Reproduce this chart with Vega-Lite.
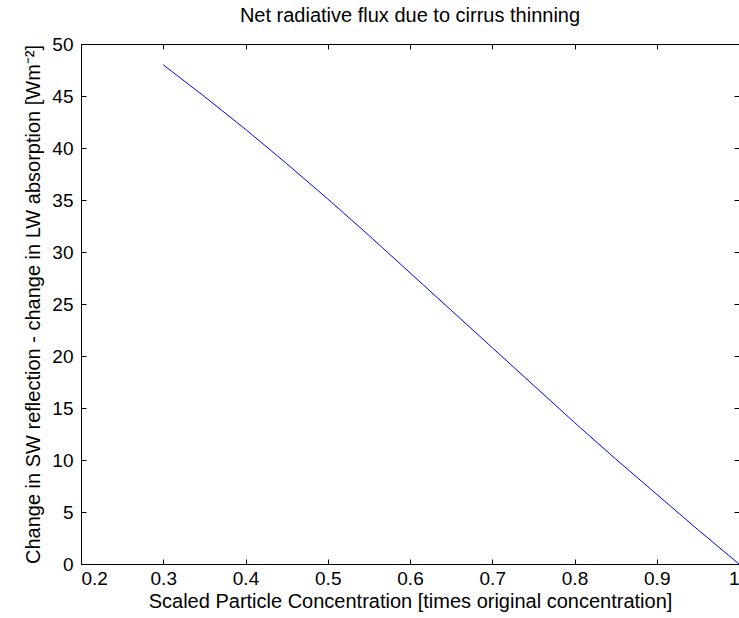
{
  "$schema": "https://vega.github.io/schema/vega-lite/v6.json",
  "width": 658,
  "height": 520,
  "autosize": "none",
  "padding": {"left": 81, "top": 44, "right": 0, "bottom": 54},
  "background": "white",
  "config": {
    "view": {"stroke": "black", "strokeWidth": 1},
    "font": "Liberation Sans",
    "axis": {
      "grid": false,
      "domainColor": "black",
      "tickColor": "black",
      "labelColor": "black",
      "titleColor": "black",
      "labelFont": "Liberation Sans",
      "titleFont": "Liberation Sans",
      "labelFontSize": 19,
      "titleFontSize": 20,
      "titleFontWeight": "normal",
      "tickSize": -5,
      "titleLimit": 1000
    }
  },
  "title": {
    "text": "Net radiative flux due to cirrus thinning",
    "fontSize": 20,
    "fontWeight": "normal",
    "font": "Liberation Sans",
    "color": "black",
    "offset": 9
  },
  "data": {
    "values": [
      {"c": 0.3, "v": 48.0},
      {"c": 0.35, "v": 44.95},
      {"c": 0.4, "v": 41.8},
      {"c": 0.45, "v": 38.5},
      {"c": 0.5, "v": 35.1},
      {"c": 0.55, "v": 31.6},
      {"c": 0.6, "v": 28.0},
      {"c": 0.65, "v": 24.4},
      {"c": 0.7, "v": 20.8},
      {"c": 0.75, "v": 17.2},
      {"c": 0.8, "v": 13.6},
      {"c": 0.85, "v": 10.1},
      {"c": 0.9, "v": 6.7},
      {"c": 0.95, "v": 3.3},
      {"c": 1.0, "v": 0.0}
    ]
  },
  "layer": [
    {
      "mark": {"type": "line", "color": "#0000ff", "strokeWidth": 1},
      "encoding": {
        "x": {
          "field": "c",
          "type": "quantitative",
          "scale": {"domain": [0.2, 1], "nice": false, "zero": false},
          "axis": {
            "values": [0.2, 0.3, 0.4, 0.5, 0.6, 0.7, 0.8, 0.9, 1],
            "format": "~g",
            "title": "Scaled Particle Concentration [times original concentration]",
            "labelPadding": 10,
            "titlePadding": 3
          }
        },
        "y": {
          "field": "v",
          "type": "quantitative",
          "scale": {"domain": [0, 50], "nice": false},
          "axis": {
            "values": [0, 5, 10, 15, 20, 25, 30, 35, 40, 45, 50],
            "title": "Change in SW reflection - change in LW absorption [Wm⁻²]",
            "labelPadding": 13,
            "titlePadding": 8
          }
        }
      }
    },
    {
      "mark": {"type": "line", "opacity": 0},
      "encoding": {
        "x": {
          "field": "c",
          "type": "quantitative",
          "scale": {"domain": [0.2, 1], "nice": false, "zero": false},
          "axis": {
            "orient": "top",
            "values": [0.2, 0.3, 0.4, 0.5, 0.6, 0.7, 0.8, 0.9, 1],
            "labels": false,
            "title": null
          }
        },
        "y": {
          "field": "v",
          "type": "quantitative",
          "scale": {"domain": [0, 50], "nice": false},
          "axis": {
            "orient": "right",
            "values": [0, 5, 10, 15, 20, 25, 30, 35, 40, 45, 50],
            "labels": false,
            "title": null
          }
        }
      }
    }
  ],
  "resolve": {"axis": {"x": "independent", "y": "independent"}}
}
